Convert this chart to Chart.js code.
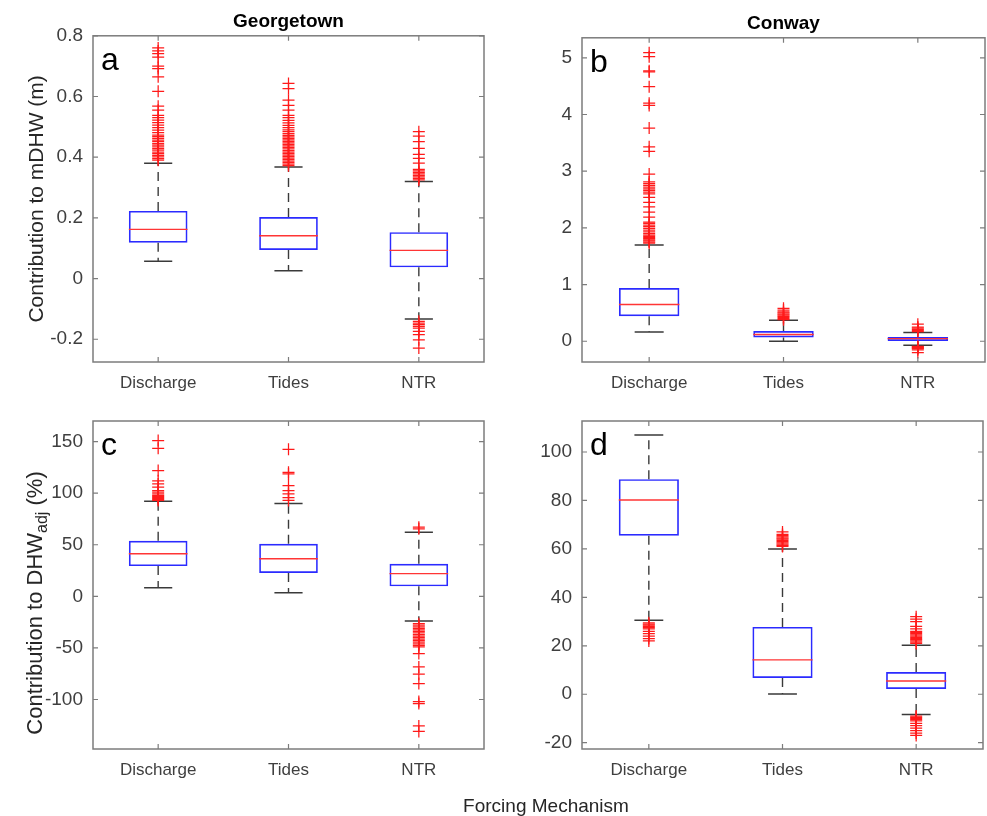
<!DOCTYPE html>
<html>
<head>
<meta charset="utf-8">
<script src="https://cdn.jsdelivr.net/npm/chart.js@4.4.1/dist/chart.umd.min.js"></script>
<style>
html,body{margin:0;padding:0;background:#fff;}
body{width:987px;height:816px;position:relative;overflow:hidden;font-family:"Liberation Sans",Arial,sans-serif;}
canvas{position:absolute;}
#xlabel{position:absolute;left:346px;width:400px;top:795px;text-align:center;font-size:19px;line-height:22px;color:#262626;}
</style>
</head>
<body>
<canvas id="cA" width="493" height="400" style="left:0;top:0"></canvas>
<canvas id="cB" width="494" height="400" style="left:493px;top:0"></canvas>
<canvas id="cC" width="493" height="400" style="left:0;top:400px"></canvas>
<canvas id="cD" width="494" height="400" style="left:493px;top:400px"></canvas>
<div id="xlabel">Forcing Mechanism</div>
<script>
// ---------- shared ----------
const categories = ['Discharge', 'Tides', 'NTR'];
const commonXTitle = 'Forcing Mechanism';

// ---------- panel a: Georgetown, contribution to mDHW (m) ----------
const aQ1  = [0.118, 0.094, 0.037];
const aMed = [0.162, 0.141, 0.093];
const aQ3  = [0.223, 0.203, 0.153];
const aLo  = [0.057, 0.026, -0.133];
const aHi  = [0.380, 0.368, 0.320];
const aOutDischarge = [0.390, 0.395, 0.401, 0.406, 0.412, 0.417, 0.423, 0.428, 0.434, 0.440, 0.445, 0.451, 0.456, 0.462, 0.468, 0.473, 0.481, 0.489, 0.497, 0.506, 0.514, 0.522, 0.530, 0.538, 0.555, 0.568, 0.617, 0.665, 0.692, 0.700, 0.730, 0.741, 0.750, 0.760];
const aOutTides = [0.372, 0.377, 0.382, 0.387, 0.392, 0.397, 0.402, 0.407, 0.412, 0.417, 0.422, 0.427, 0.432, 0.437, 0.442, 0.447, 0.452, 0.457, 0.462, 0.467, 0.472, 0.478, 0.484, 0.490, 0.497, 0.505, 0.513, 0.521, 0.530, 0.538, 0.555, 0.571, 0.588, 0.626, 0.643];
const aOutNTR = [0.325, 0.330, 0.335, 0.340, 0.345, 0.350, 0.355, 0.360, 0.380, 0.396, 0.409, 0.429, 0.451, 0.469, 0.484, -0.141, -0.147, -0.152, -0.158, -0.163, -0.174, -0.185, -0.202, -0.229];
const aTicks = [-0.2, 0, 0.2, 0.4, 0.6, 0.8];

// ---------- panel b: Conway, contribution to mDHW (m) ----------
const bQ1  = [0.440, 0.065, 0.006];
const bMed = [0.648, 0.118, 0.047];
const bQ3  = [0.940, 0.180, 0.077];
const bLo  = [0.165, 0.000, -0.070];
const bHi  = [1.696, 0.370, 0.153];
const bOutDischarge = [1.73, 1.75, 1.77, 1.79, 1.81, 1.83, 1.85, 1.87, 1.90, 1.93, 1.96, 1.99, 2.02, 2.05, 2.08, 2.10, 2.19, 2.28, 2.37, 2.45, 2.54, 2.60, 2.63, 2.66, 2.69, 2.72, 2.75, 2.78, 2.81, 2.95, 3.35, 3.43, 3.76, 4.16, 4.20, 4.49, 4.75, 4.77, 5.02, 5.09];
const bOutTides = [0.38, 0.40, 0.42, 0.44, 0.46, 0.48, 0.50, 0.52, 0.55, 0.58];
const bOutNTR = [0.17, 0.19, 0.21, 0.23, 0.25, 0.30, -0.09, -0.10, -0.11, -0.12, -0.13, -0.15, -0.20];
const bTicks = [0, 1, 2, 3, 4, 5];

// ---------- panel c: Georgetown, contribution to DHW_adj (%) ----------
const cQ1  = [29.3, 22.6, 9.7];
const cMed = [41.3, 36.5, 22.0];
const cQ3  = [53.9, 51.0, 31.6];
const cLo  = [8.4, 3.5, -23.9];
const cHi  = [92.3, 90.0, 62.2];
const cOutDischarge = [93.0, 94.0, 95.0, 96.0, 97.0, 98.0, 99.4, 101.0, 102.6, 105.8, 109.0, 112.0, 122.0, 143.5, 151.0];
const cOutTides = [93.0, 95.8, 99.4, 102.6, 107.4, 118.7, 120.3, 142.6];
const cOutNTR = [65.5, 67.0, -26.5, -28.0, -29.5, -31.0, -32.5, -34.0, -35.5, -37.0, -38.5, -40.0, -41.5, -43.0, -44.5, -46.0, -47.5, -49.0, -55.5, -68.4, -75.5, -84.5, -102.0, -104.0, -125.6, -131.0];
const cTicks = [-100, -50, 0, 50, 100, 150];

// ---------- panel d: Conway, contribution to DHW_adj (%) ----------
const dQ1  = [65.4, 6.7, 2.2];
const dMed = [80.2, 14.2, 5.5];
const dQ3  = [88.8, 27.8, 9.2];
const dLo  = [30.6, 0.1, -8.4];
const dHi  = [107.0, 60.0, 20.2];
const dOutDischarge = [22.0, 23.0, 24.0, 25.0, 26.0, 27.0, 27.5, 28.0, 28.5, 29.0, 29.5];
const dOutTides = [61.0, 61.5, 62.0, 62.5, 63.0, 63.5, 64.0, 64.5, 65.0, 65.5, 66.0, 67.0];
const dOutNTR = [21.0, 21.5, 22.0, 22.5, 23.0, 23.5, 24.0, 24.5, 25.0, 25.5, 26.0, 27.0, 28.0, 30.0, 31.0, 32.0, -9.0, -9.5, -10.0, -10.5, -11.0, -12.0, -13.0, -14.0, -15.0, -16.0, -17.0];
const dTicks = [-20, 0, 20, 40, 60, 80, 100];

// ---------- style ----------
const FONT = '"Liberation Sans", Arial, sans-serif';
const BOX_COLOR = '#2b2bff';
const MED_COLOR = '#ff3535';
const WHISK_COLOR = '#3a3a3a';
const OUT_COLOR = '#ff1a1a';
const FRAME_COLOR = '#7c7c7c';
const TICK_TEXT = '#3f3f3f';
const BOX_HALF = 0.225;
const CAP_HALF = 0.108;

const framePlugin = {
  id: 'frame',
  afterDraw(chart, args, opts) {
    const {ctx, chartArea: ca} = chart;
    const xs = chart.scales.x, ys = chart.scales.y;
    ctx.save();
    ctx.strokeStyle = FRAME_COLOR;
    ctx.lineWidth = 1.5;
    ctx.strokeRect(ca.left, ca.top, ca.width, ca.height);
    ctx.lineWidth = 1.2;
    ctx.beginPath();
    ys.ticks.forEach(t => {
      const py = ys.getPixelForValue(t.value);
      ctx.moveTo(ca.left, py); ctx.lineTo(ca.left + 5, py);
      ctx.moveTo(ca.right, py); ctx.lineTo(ca.right - 5, py);
    });
    xs.ticks.forEach(t => {
      const px = xs.getPixelForValue(t.value);
      ctx.moveTo(px, ca.bottom); ctx.lineTo(px, ca.bottom - 5);
      ctx.moveTo(px, ca.top); ctx.lineTo(px, ca.top + 5);
    });
    ctx.stroke();
    // panel letter
    ctx.fillStyle = '#000';
    ctx.font = '32px ' + FONT;
    ctx.textBaseline = 'alphabetic';
    ctx.textAlign = 'left';
    ctx.fillText(opts.letter, ca.left + 8, ca.top + 34);
    // custom y title with subscript
    if (opts.subTitle) {
      const s = opts.subTitle;
      ctx.fillStyle = '#262626';
      const mainFont = '22px ' + FONT, subFont = '16px ' + FONT;
      ctx.font = mainFont; const w1 = ctx.measureText(s.main).width;
      ctx.font = subFont; const w2 = ctx.measureText(s.sub).width;
      ctx.font = mainFont; const w3 = ctx.measureText(s.tail).width;
      const total = w1 + w2 + w3;
      ctx.translate(s.x, (ca.top + ca.bottom) / 2 + s.dy);
      ctx.rotate(-Math.PI / 2);
      ctx.textBaseline = 'middle';
      let x0 = -total / 2;
      ctx.font = mainFont; ctx.fillText(s.main, x0, 0);
      ctx.font = subFont; ctx.fillText(s.sub, x0 + w1, 7);
      ctx.font = mainFont; ctx.fillText(s.tail, x0 + w1 + w2, 0);
    }
    ctx.restore();
  }
};

function makeChart(id, p) {
  const pos = categories.map((c, i) => i + 1);
  const whisk = [], caps = [], meds = [];
  pos.forEach((x, i) => {
    whisk.push({x, y: p.q3[i]}, {x, y: p.hi[i]}, {x, y: null}, {x, y: p.q1[i]}, {x, y: p.lo[i]}, {x, y: null});
    caps.push({x: x - CAP_HALF, y: p.hi[i]}, {x: x + CAP_HALF, y: p.hi[i]}, {x, y: null},
              {x: x - CAP_HALF, y: p.lo[i]}, {x: x + CAP_HALF, y: p.lo[i]}, {x, y: null});
    meds.push({x: x - BOX_HALF, y: p.med[i]}, {x: x + BOX_HALF, y: p.med[i]}, {x, y: null});
  });
  const outs = [];
  p.out.forEach((arr, i) => arr.forEach(v => outs.push({x: i + 1, y: v})));
  const lineBase = {type: 'line', pointRadius: 0, fill: false, tension: 0, spanGaps: false};
  return new Chart(document.getElementById(id), {
    type: 'scatter',
    data: {
      datasets: [
        Object.assign({}, lineBase, {label: 'median', data: meds, borderColor: MED_COLOR, borderWidth: 1.4}),
        {type: 'scatter', label: 'outliers', data: outs, pointStyle: 'cross', pointRadius: 6,
         borderColor: OUT_COLOR, backgroundColor: OUT_COLOR, borderWidth: 1.25},
        Object.assign({}, lineBase, {label: 'caps', data: caps, borderColor: WHISK_COLOR, borderWidth: 1.5}),
        Object.assign({}, lineBase, {label: 'whiskers', data: whisk, borderColor: WHISK_COLOR, borderWidth: 1.4, borderDash: [9, 6]}),
        {type: 'bar', label: 'IQR', data: pos.map((x, i) => ({x, y: [p.q1[i], p.q3[i]]})),
         backgroundColor: 'rgba(0,0,0,0)', borderColor: BOX_COLOR, borderWidth: 1.7, borderSkipped: false,
         barPercentage: 0.45, categoryPercentage: 1}
      ]
    },
    options: {
      responsive: false, animation: false, events: [],
      layout: {autoPadding: false, padding: {left: 0, right: p.padRight, top: p.padTop, bottom: 0}},
      plugins: {
        legend: {display: false}, tooltip: {enabled: false},
        title: p.title ? {display: true, text: p.title, fullSize: false, color: '#000',
          font: {family: FONT, size: 19, weight: 'bold'}, padding: {top: p.titleTop, bottom: p.titleBottom}} : {display: false},
        frame: {letter: p.letter, subTitle: p.subTitle}
      },
      scales: {
        x: {
          type: 'linear', min: 0.5, max: 3.5, offset: false,
          grid: {display: false, drawTicks: false, offset: false}, border: {display: false},
          afterBuildTicks: s => { s.ticks = pos.map(v => ({value: v})); },
          afterFit: s => { s.height = p.xH; s.paddingLeft = 0; s.paddingRight = 0; },
          ticks: {autoSkip: false, maxRotation: 0, padding: 11, color: TICK_TEXT,
            font: {family: FONT, size: 17}, callback: v => categories[Math.round(v) - 1]}
        },
        y: {
          type: 'linear', min: p.yMin, max: p.yMax,
          grid: {display: false, drawTicks: false}, border: {display: false},
          afterBuildTicks: s => { s.ticks = p.ticks.map(v => ({value: v})); },
          afterFit: s => { s.width = p.yW; s.paddingTop = 0; s.paddingBottom = 0; },
          ticks: {padding: 10, color: TICK_TEXT, font: {family: FONT, size: 19}, callback: v => String(v)},
          title: p.yTitle ? {display: true, text: p.yTitle, color: '#262626',
            font: {family: FONT, size: 21}, padding: {top: 25, bottom: 0}} : {display: false}
        }
      }
    },
    plugins: [framePlugin]
  });
}

makeChart('cA', {
  q1: aQ1, med: aMed, q3: aQ3, lo: aLo, hi: aHi, out: [aOutDischarge, aOutTides, aOutNTR],
  ticks: aTicks, yMin: -0.275, yMax: 0.8, title: 'Georgetown', yTitle: 'Contribution to mDHW (m)', letter: 'a',
  yW: 93, xH: 38, padRight: 9, padTop: 0, titleTop: 10, titleBottom: 3
});
makeChart('cB', {
  q1: bQ1, med: bMed, q3: bQ3, lo: bLo, hi: bHi, out: [bOutDischarge, bOutTides, bOutNTR],
  ticks: bTicks, yMin: -0.366, yMax: 5.353, title: 'Conway', letter: 'b',
  yW: 89, xH: 38, padRight: 2, padTop: 0, titleTop: 12, titleBottom: 3
});
makeChart('cC', {
  q1: cQ1, med: cMed, q3: cQ3, lo: cLo, hi: cHi, out: [cOutDischarge, cOutTides, cOutNTR],
  ticks: cTicks, yMin: -148, yMax: 170, letter: 'c',
  subTitle: {main: 'Contribution to DHW', sub: 'adj', tail: ' (%)', x: 36, dy: 18},
  yW: 93, xH: 51, padRight: 9, padTop: 21
});
makeChart('cD', {
  q1: dQ1, med: dMed, q3: dQ3, lo: dLo, hi: dHi, out: [dOutDischarge, dOutTides, dOutNTR],
  ticks: dTicks, yMin: -22.6, yMax: 112.8, letter: 'd',
  yW: 89, xH: 51, padRight: 4, padTop: 21
});
</script>
</body>
</html>
